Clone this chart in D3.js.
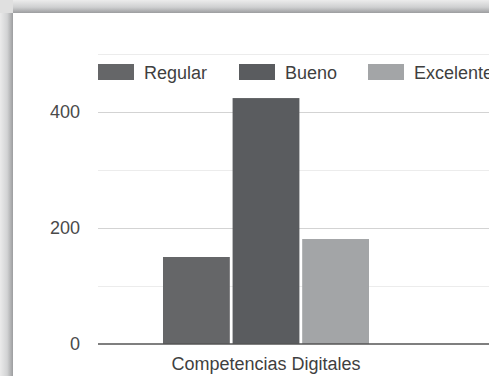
<!DOCTYPE html>
<html lang="es">
<head>
<meta charset="UTF-8">
<title>Competencias Digitales</title>
<style>
  body { margin: 0; background: #fff; }
  svg { display: block; font-family: "Liberation Sans", Arial, sans-serif; }
</style>
</head>
<body>
<script src="https://cdn.jsdelivr.net/npm/d3@7"></script>
<script>
  var categories = ['Competencias Digitales'];
  var series = ['Regular', 'Bueno', 'Excelente'];
  var values = [150, 424, 181];
  var colors = ['#656668', '#5a5c5f', '#a3a5a7'];
  var yTicks = [0, 100, 200, 300, 400, 500];
  var yLabels = [0, 200, 400];

  var W = 489, H = 376;
  var svg = d3.select('body').append('svg')
      .attr('width', W)
      .attr('height', H);

  // frame shading
  var defs = svg.append('defs');
  var gTop = defs.append('linearGradient').attr('id', 'gtop')
      .attr('x1', 0).attr('y1', 0).attr('x2', 0).attr('y2', 1);
  gTop.append('stop').attr('offset', '0%').attr('stop-color', '#ececec');
  gTop.append('stop').attr('offset', '55%').attr('stop-color', '#cfd0d1');
  gTop.append('stop').attr('offset', '100%').attr('stop-color', '#9c9d9f');
  var gLeft = defs.append('linearGradient').attr('id', 'gleft')
      .attr('x1', 0).attr('y1', 0).attr('x2', 1).attr('y2', 0);
  gLeft.append('stop').attr('offset', '0%').attr('stop-color', '#ebebeb');
  gLeft.append('stop').attr('offset', '55%').attr('stop-color', '#d2d3d4');
  gLeft.append('stop').attr('offset', '100%').attr('stop-color', '#9c9d9f');

  svg.append('rect').attr('x', 0).attr('y', 0).attr('width', W).attr('height', 13)
      .attr('fill', 'url(#gtop)');
  svg.append('rect').attr('x', 0).attr('y', 13).attr('width', 13).attr('height', H - 13)
      .attr('fill', 'url(#gleft)');
  svg.append('rect').attr('x', 0).attr('y', 0).attr('width', 13).attr('height', 13)
      .attr('fill', '#e0e0e0');
  svg.append('rect').attr('x', 13).attr('y', 13).attr('width', W - 13).attr('height', H - 13)
      .attr('fill', '#fff');

  var left = 98, baseY = 344, topY = 54;

  var y = d3.scaleLinear().domain([0, 500]).range([baseY, topY]);
  var x0 = d3.scaleBand().domain(categories).range([left, 434]).paddingOuter(0.3155).paddingInner(0);
  var x1 = d3.scaleBand().domain(series).range([0, x0.bandwidth()]).paddingInner(0.04);

  // gridlines
  svg.append('g').selectAll('line')
      .data(yTicks.filter(function(d) { return d > 0; }))
    .enter().append('line')
      .attr('x1', left).attr('x2', W)
      .attr('y1', function(d) { return Math.round(y(d)) + 0.5; })
      .attr('y2', function(d) { return Math.round(y(d)) + 0.5; })
      .attr('stroke', function(d) { return d % 200 === 0 ? '#d3d3d3' : '#ececec'; })
      .attr('stroke-width', 1);

  // y labels
  svg.append('g').selectAll('text')
      .data(yLabels)
    .enter().append('text')
      .attr('x', 80)
      .attr('y', function(d) { return y(d) + 6; })
      .attr('text-anchor', 'end')
      .attr('font-size', 18)
      .attr('fill', '#4a4a4a')
      .text(function(d) { return d; });

  // bars
  svg.append('g').selectAll('rect')
      .data(series)
    .enter().append('rect')
      .attr('x', function(d) { return x0(categories[0]) + x1(d); })
      .attr('y', function(d, i) { return y(values[i]); })
      .attr('width', x1.bandwidth())
      .attr('height', function(d, i) { return baseY - y(values[i]); })
      .attr('fill', function(d, i) { return colors[i]; });

  // baseline
  svg.append('line')
      .attr('x1', left).attr('x2', W)
      .attr('y1', baseY).attr('y2', baseY)
      .attr('stroke', '#555')
      .attr('stroke-width', 1.5);

  // category label
  svg.append('text')
      .attr('x', x0(categories[0]) + x0.bandwidth() / 2)
      .attr('y', 370)
      .attr('text-anchor', 'middle')
      .attr('font-size', 18)
      .attr('fill', '#3f3f3f')
      .text(categories[0]);

  // legend (last label runs off the right edge, as in the original)
  var legendX = [98, 239, 368];
  var legend = svg.append('g').selectAll('g')
      .data(series)
    .enter().append('g')
      .attr('transform', function(d, i) { return 'translate(' + legendX[i] + ',64)'; });
  legend.append('rect')
      .attr('width', 36).attr('height', 16)
      .attr('fill', function(d, i) { return colors[i]; });
  legend.append('text')
      .attr('x', 46).attr('y', 15)
      .attr('font-size', 18)
      .attr('fill', '#3f3f3f')
      .text(function(d) { return d; });
</script>
</body>
</html>
